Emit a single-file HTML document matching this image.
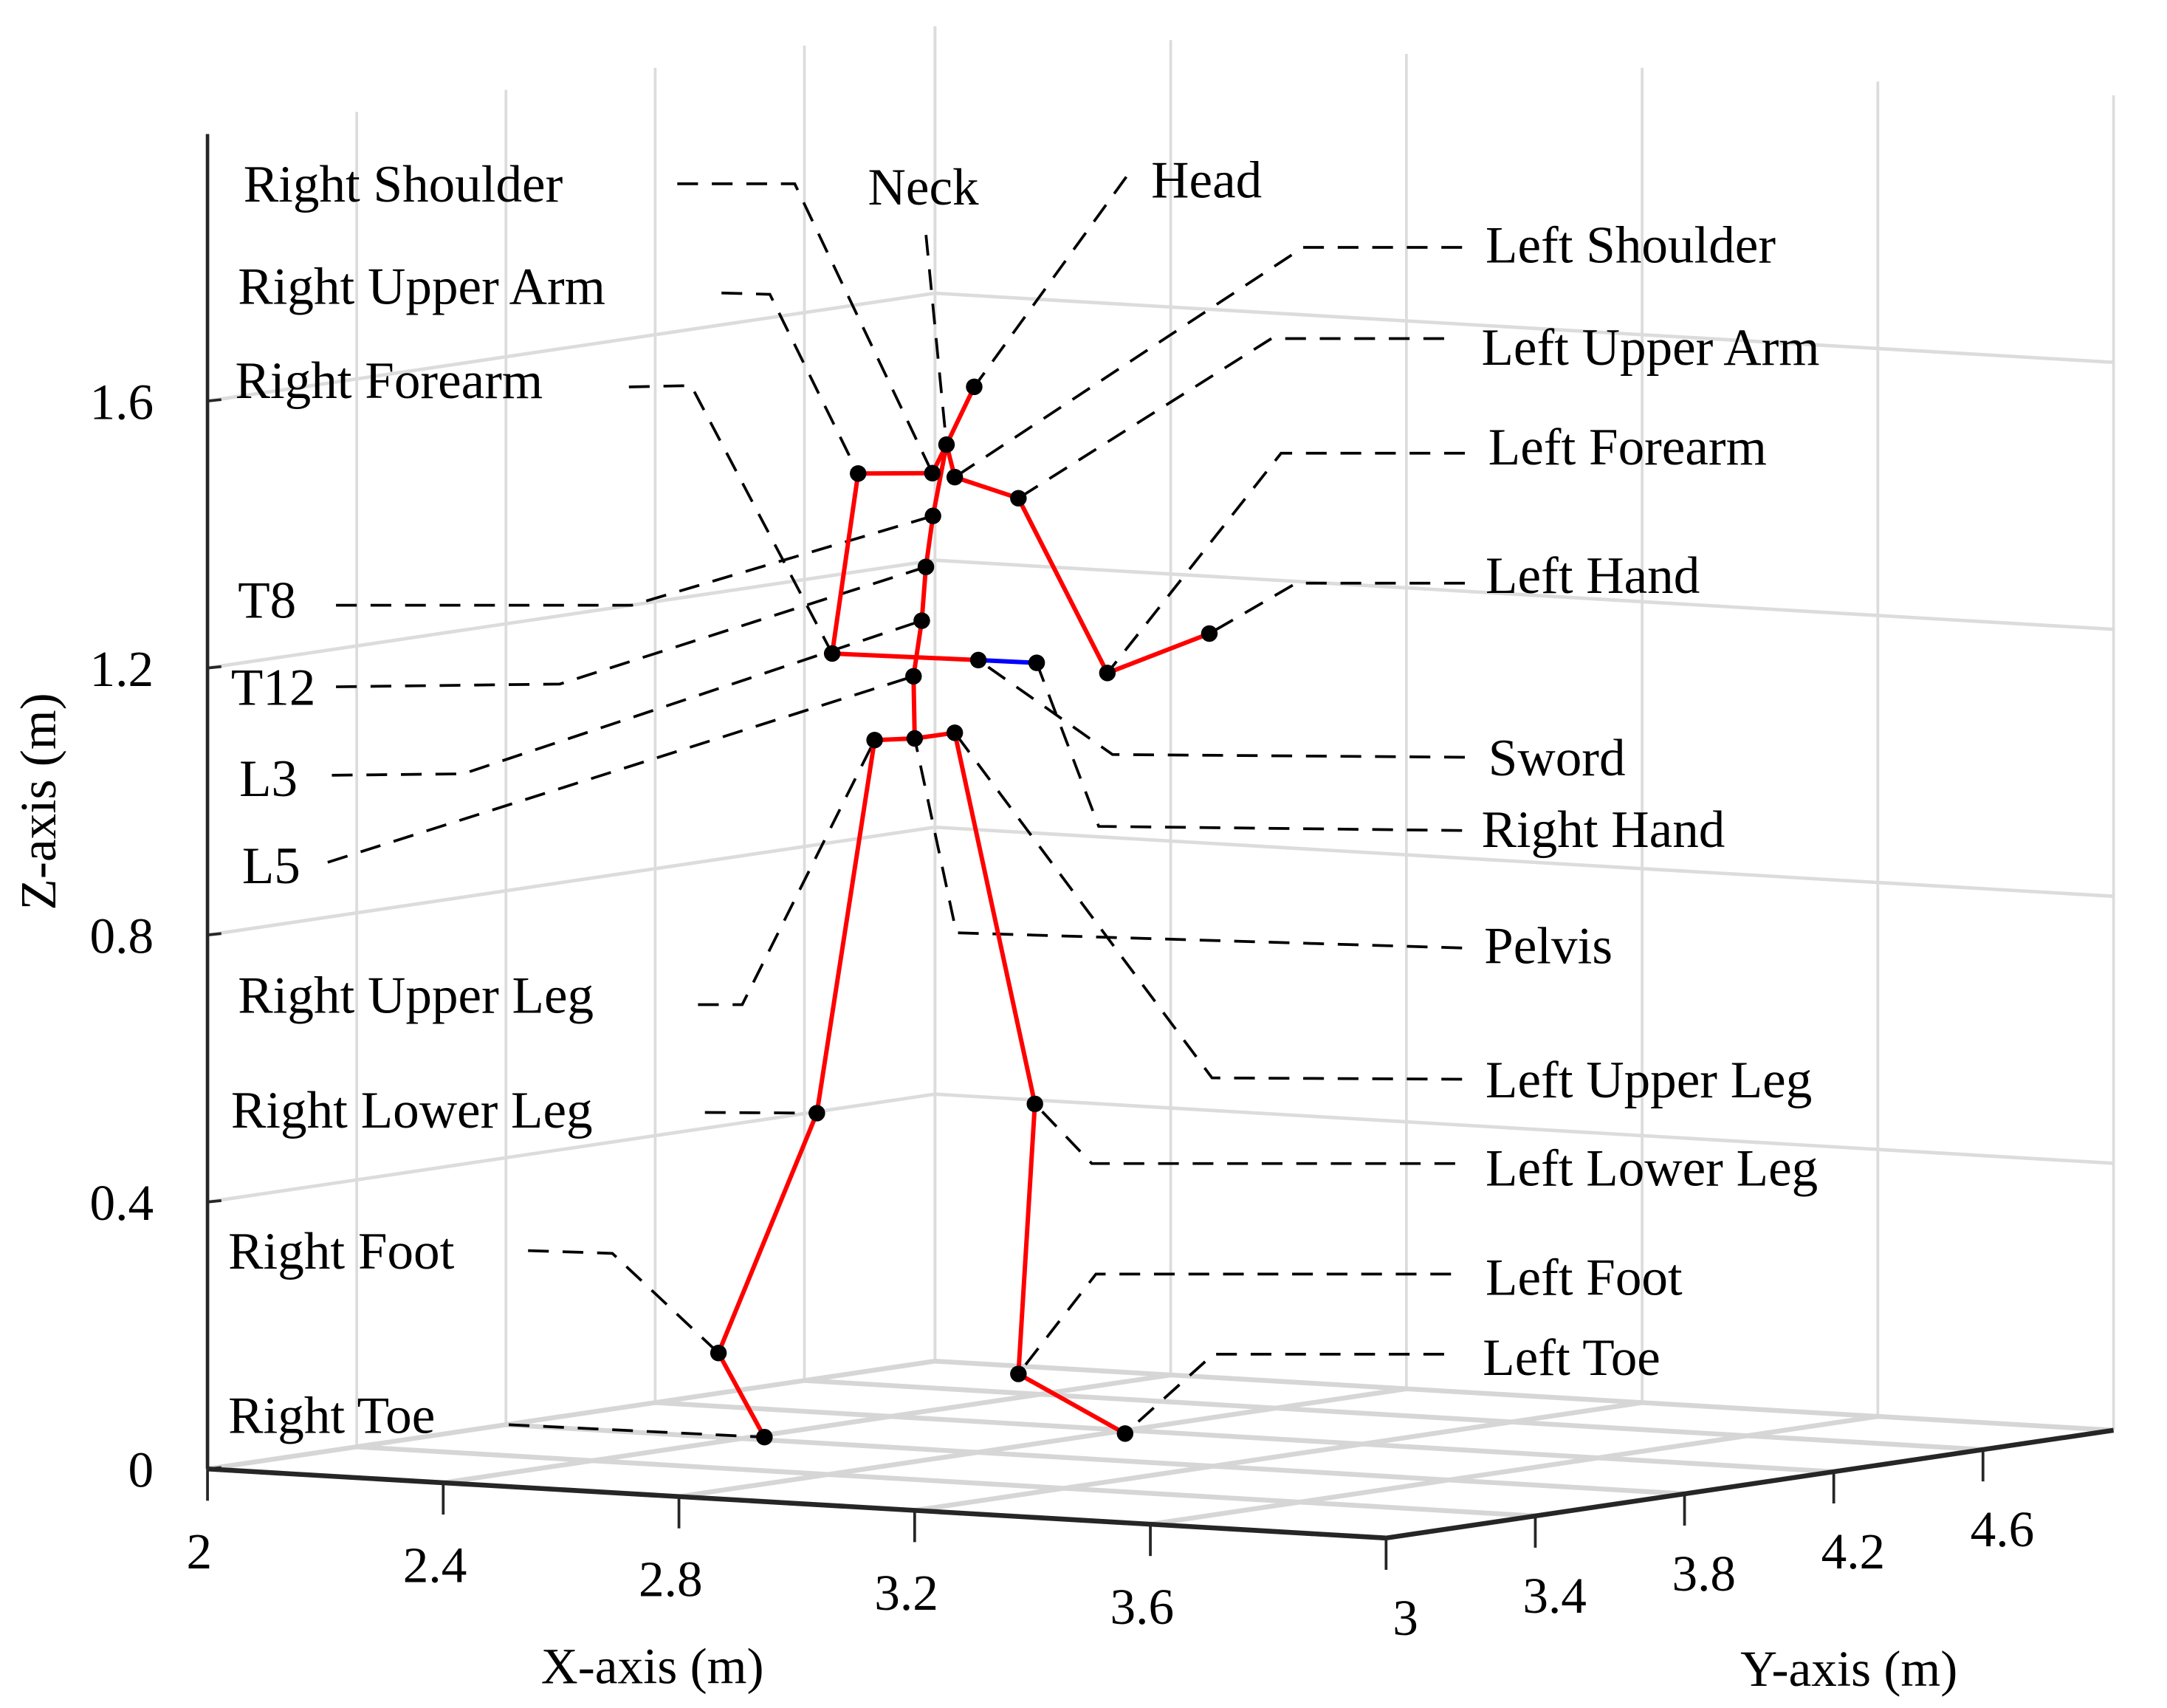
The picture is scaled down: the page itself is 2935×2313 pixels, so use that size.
<!DOCTYPE html>
<html><head><meta charset="utf-8"><style>
html,body{margin:0;padding:0;background:#fff}
svg{display:block}
text{font-family:"Liberation Serif",serif;fill:#000}
</style></head><body>
<svg id="chart" width="2935" height="2313" viewBox="0 0 1568 1236" xmlns="http://www.w3.org/2000/svg">
<g id="grid"></g>
<g id="axes"></g>
<g id="leaders"></g>
<g id="skel"></g>
<g id="labels"></g>
</svg>
<script>
const xTicks=[2,2.4,2.8,3.2,3.6];
const yTicks=[3,3.4,3.8,4.2,4.6];
const zTicks=[0,0.4,0.8,1.2,1.6];
const xRange=[2,4], yRange=[3,4.95], zRange=[0,2];
const jointNames=["Head","Neck","Right Shoulder","Left Shoulder","Right Upper Arm","Left Upper Arm","Right Forearm","Left Forearm","Left Hand","Right Hand","Sword","T8","T12","L3","L5","Pelvis","Right Upper Leg","Left Upper Leg","Right Lower Leg","Left Lower Leg","Right Foot","Left Foot","Right Toe","Left Toe"];
const jointX=[2.668,2.621,2.597,2.635,2.471,2.743,2.427,2.894,3.067,2.774,2.675,2.598,2.586,2.579,2.565,2.567,2.499,2.635,2.401,2.771,2.234,2.743,2.312,2.924];
const jointY=[4,4,4,4,4,4,4,4,4,4,4,4,4,4,4,4,4,4,4,4,4,4,4,4];
const jointZ=[1.573,1.484,1.440,1.436,1.433,1.410,1.161,1.156,1.224,1.165,1.164,1.376,1.299,1.218,1.134,1.041,1.035,1.053,0.471,0.504,0.103,0.098,-0.019,0.018];
const bones=[[0,1],[1,2],[2,4],[4,6],[6,10],[1,3],[3,5],[5,7],[7,8],[1,11],[11,12],[12,13],[13,14],[14,15],[16,15],[15,17],[16,18],[18,20],[20,22],[17,19],[19,21],[21,23]];
const swordBone=[10,9];

function px(x,y,z){return 150+(x-2)*426.5+(y-3)*270;}
function py(x,y,z){return 1063+(x-2)*25-(y-3)*40-z*483;}
const NS="http://www.w3.org/2000/svg";
function mk(tag,attrs,parent){const e=document.createElementNS(NS,tag);for(const k in attrs)e.setAttribute(k,attrs[k]);parent.appendChild(e);return e;}
const G=document.getElementById('grid'),A=document.getElementById('axes'),L=document.getElementById('leaders'),S=document.getElementById('skel'),T=document.getElementById('labels');
function line(p,a,b,st,w,extra){const e=mk('line',{x1:a[0],y1:a[1],x2:b[0],y2:b[1],stroke:st,'stroke-width':w},p);if(extra)for(const k in extra)e.setAttribute(k,extra[k]);return e;}
function P(x,y,z){return [px(x,y,z),py(x,y,z)];}
const gc="#dcdcdc";
yTicks.concat([yRange[1]]).forEach(y=>{const e=line(G,P(2,y,0),P(2,y,2),gc,2);
});
xTicks.concat([xRange[1]]).forEach(x=>{const e=line(G,P(x,yRange[1],0),P(x,yRange[1],2),gc,2);
});
zTicks.forEach(z=>{let e=line(G,P(2,3,z),P(2,yRange[1],z),gc,2.5);

e=line(G,P(2,yRange[1],z),P(4,yRange[1],z),gc,2.5);
});
xTicks.forEach(x=>{const e=line(G,P(x,3,0),P(x,yRange[1],0),"#d6d6d6",3.5);
});
yTicks.concat([yRange[1]]).forEach(y=>{const e=line(G,P(2,y,0),P(4,y,0),"#d6d6d6",3.5);
});
const ac="#262626";
let e=line(A,P(2,3,0),P(4,3,0),ac,3.5);
e=line(A,P(4,3,0),P(4,yRange[1],0),ac,3.5);
e=line(A,P(2,3,0),P(2,3,2),ac,2.5);
function txt(p,s,x,y,anchor,size,name){const t=mk('text',{x:x,y:y,'text-anchor':anchor||'start','font-size':size||38},p);t.textContent=s;return t;}
xTicks.forEach(x=>{const p=P(x,3,0);let e=line(A,p,[p[0],p[1]+23],ac,2);

txt(A,String(x),p[0]-6,p[1]+72,'middle',37,'x-tick-label');});
yTicks.forEach(y=>{const p=P(4,y,0);let e=line(A,p,[p[0],p[1]+23],ac,2);

txt(A,String(y),p[0]+14,p[1]+70,'middle',37,'y-tick-label');});
zTicks.forEach(z=>{const p=P(2,3,z);let e=line(A,p,[p[0]+10,p[1]-1],ac,2);

txt(A,String(z),111,p[1]+13,'end',37,'z-tick-label');});
txt(A,'X-axis (m)',472,1218,'middle',37,'x-axis-title');
txt(A,'Y-axis (m)',1338,1220,'middle',37,'y-axis-title');
const zt=txt(A,'Z-axis (m)',0,0,'middle',37,'z-axis-title');zt.setAttribute('transform','translate(40,580) rotate(-90)');
function J(i){return P(jointX[i],jointY[i],jointZ[i]);}
bones.forEach(b=>{const e=line(S,J(b[0]),J(b[1]),'#ff0000',3.2,{'stroke-linecap':'round'});
});
e=line(S,J(swordBone[0]),J(swordBone[1]),'#0000ff',3.2);

jointNames.forEach((n,i)=>{const p=J(i);const c=mk('circle',{cx:p[0],cy:p[1],r:6,fill:'#000'},S);
});
const lab=[
["Right Shoulder",176,146,[[490,133],[575,133]]],
["Neck",628,148,[[670,170]]],
["Head",833,143,[[815,128]]],
["Left Shoulder",1075,190,[[1058,179],[943,179]]],
["Right Upper Arm",172,220,[[522,212],[557,213]]],
["Left Upper Arm",1072,264,[[1045,245],[920,245]]],
["Right Forearm",170,288,[[455,280],[500,279]]],
["Left Forearm",1077,336,[[1060,328],[927,328]]],
["Left Hand",1075,429,[[1060,422],[938,422]]],
["T8",172,447,[[243,438],[457,438]]],
["T12",167,510,[[243,497],[405,495]]],
["L3",173,576,[[240,561],[335,560]]],
["L5",175,639,[[237,624]]],
["Sword",1077,561,[[1060,548],[805,546]]],
["Right Hand",1072,613,[[1058,601],[795,598]]],
["Pelvis",1074,697,[[1058,686],[692,675]]],
["Right Upper Leg",172,733,[[505,727],[537,727]]],
["Left Upper Leg",1075,794,[[1058,781],[877,780]]],
["Right Lower Leg",167,816,[[510,805]]],
["Left Lower Leg",1075,858,[[1053,842],[790,842]]],
["Right Foot",165,918,[[382,905],[443,907]]],
["Left Foot",1075,937,[[1050,922],[793,922]]],
["Left Toe",1073,995,[[1045,980],[878,980]]],
["Right Toe",165,1037,[[368,1031]]]];
lab.forEach(l=>{const i=jointNames.indexOf(l[0]);const pts=l[3].concat([J(i)]);
const pl=mk('polyline',{points:pts.map(p=>p.join(',')).join(' '),fill:'none',stroke:'#000','stroke-width':2,'stroke-dasharray':'15,10'},L);

txt(T,l[0],l[1],l[2],'start',38,'joint-label');});
</script>
</body></html>
